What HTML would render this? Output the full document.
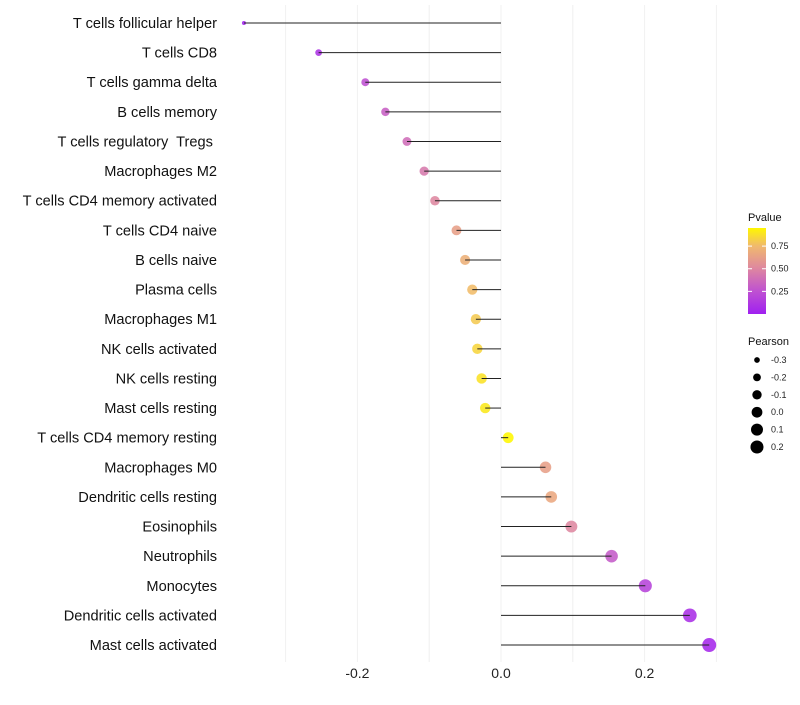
<!DOCTYPE html>
<html><head><meta charset="utf-8"><style>
body{margin:0;background:#fff;font-family:"Liberation Sans",sans-serif}
</style></head><body>
<svg id="chart" width="800" height="700" xmlns="http://www.w3.org/2000/svg">
<defs><linearGradient id="pg" x1="0" y1="1" x2="0" y2="0">
<stop offset="0" stop-color="#A020F0"/><stop offset="0.26" stop-color="#BE50D2"/><stop offset="0.53" stop-color="#DE87A0"/><stop offset="0.79" stop-color="#F0B96E"/><stop offset="1" stop-color="#FFF700"/>
</linearGradient></defs>
<g id="grid"></g><g id="dots"></g><g id="marks"></g><g id="labels"></g><g id="legend"></g>
</svg>
<script>
const categories=["T cells follicular helper","T cells CD8","T cells gamma delta","B cells memory","T cells regulatory  Tregs ","Macrophages M2","T cells CD4 memory activated","T cells CD4 naive","B cells naive","Plasma cells","Macrophages M1","NK cells activated","NK cells resting","Mast cells resting","T cells CD4 memory resting","Macrophages M0","Dendritic cells resting","Eosinophils","Neutrophils","Monocytes","Dendritic cells activated","Mast cells activated"];
const pearson=[-0.358,-0.254,-0.189,-0.161,-0.131,-0.107,-0.092,-0.062,-0.050,-0.040,-0.035,-0.033,-0.027,-0.022,0.010,0.062,0.070,0.098,0.154,0.201,0.263,0.290];
const pvalue=[0.02,0.10,0.25,0.32,0.38,0.44,0.50,0.62,0.70,0.76,0.80,0.84,0.88,0.90,0.98,0.62,0.66,0.50,0.30,0.18,0.08,0.04];
const xTicks=[-0.2,0.0,0.2];
const xGrid=[-0.3,-0.2,-0.1,0.0,0.1,0.2,0.3];
const colorTicks=[0.25,0.5,0.75];
const sizeTicks=[-0.3,-0.2,-0.1,0.0,0.1,0.2];
const NS="http://www.w3.org/2000/svg";
const X=v=>501+v*718;
const Y=i=>23+i*29.62;
const R=v=>Math.sqrt(4+(v+0.36)/0.65*45);
const stops=[[0,[160,32,240]],[0.25,[190,80,210]],[0.5,[222,135,160]],[0.75,[240,185,110]],[0.95,[255,247,0]]];
function col(p){p=Math.max(0,Math.min(0.95,p));for(let k=0;k<stops.length-1;k++){const [a,ca]=stops[k],[b,cb]=stops[k+1];
 if(p<=b){const t=(p-a)/(b-a);return `rgb(${ca.map((c,j)=>Math.round(c+(cb[j]-c)*t))})`;}}return 'rgb(255,247,0)';}
function mk(tag,attrs,parent,text){const e=document.createElementNS(NS,tag);for(const k in attrs)e.setAttribute(k,attrs[k]);if(text!==undefined)e.textContent=text;document.getElementById(parent).appendChild(e);return e;}
xGrid.forEach(v=>{const e=mk('line',{x1:X(v),x2:X(v),y1:5,y2:662,stroke:'#f0f0f0','stroke-width':1},'grid');

});
xTicks.forEach(v=>{const e=mk('text',{x:X(v),y:678,'text-anchor':'middle','font-size':14,fill:'#222'},'labels',v.toFixed(1));

});
categories.forEach((c,i)=>{
 const d=mk('circle',{cx:X(pearson[i]),cy:Y(i),r:R(pearson[i]),fill:col(pvalue[i]),'fill-opacity':0.88},'dots');
 
 
 const l=mk('line',{x1:X(0),x2:X(pearson[i]),y1:Y(i),y2:Y(i),stroke:'#222','stroke-width':1},'marks');
 
 
 const t=mk('text',{x:217,y:Y(i)+5,'text-anchor':'end','font-size':14.6,fill:'#111',style:'white-space:pre'},'labels',c);
 
 
});
let e=mk('text',{x:748,y:221,'font-size':11,fill:'#111'},'legend','Pvalue');


e=mk('rect',{x:748,y:228,width:18,height:86,fill:'url(#pg)'},'legend');


colorTicks.forEach(p=>{const y=314-p/0.95*86;
 const l=mk('line',{x1:748,x2:752,y1:y,y2:y,stroke:'#fff'},'legend');
 const l2=mk('line',{x1:762,x2:766,y1:y,y2:y,stroke:'#fff'},'legend');
 const t=mk('text',{x:771,y:y+3,'font-size':9,fill:'#222'},'legend',p.toFixed(2));
 
 });
e=mk('text',{x:748,y:345,'font-size':11,fill:'#111'},'legend','Pearson');


sizeTicks.forEach((v,i)=>{const y=360+i*17.4;
 const c=mk('circle',{cx:757,cy:y,r:R(v),fill:'#000'},'legend');
 
 
 const t=mk('text',{x:771,y:y+3,'font-size':9,fill:'#222'},'legend',v.toFixed(1));
 
 });
</script>
</body></html>
